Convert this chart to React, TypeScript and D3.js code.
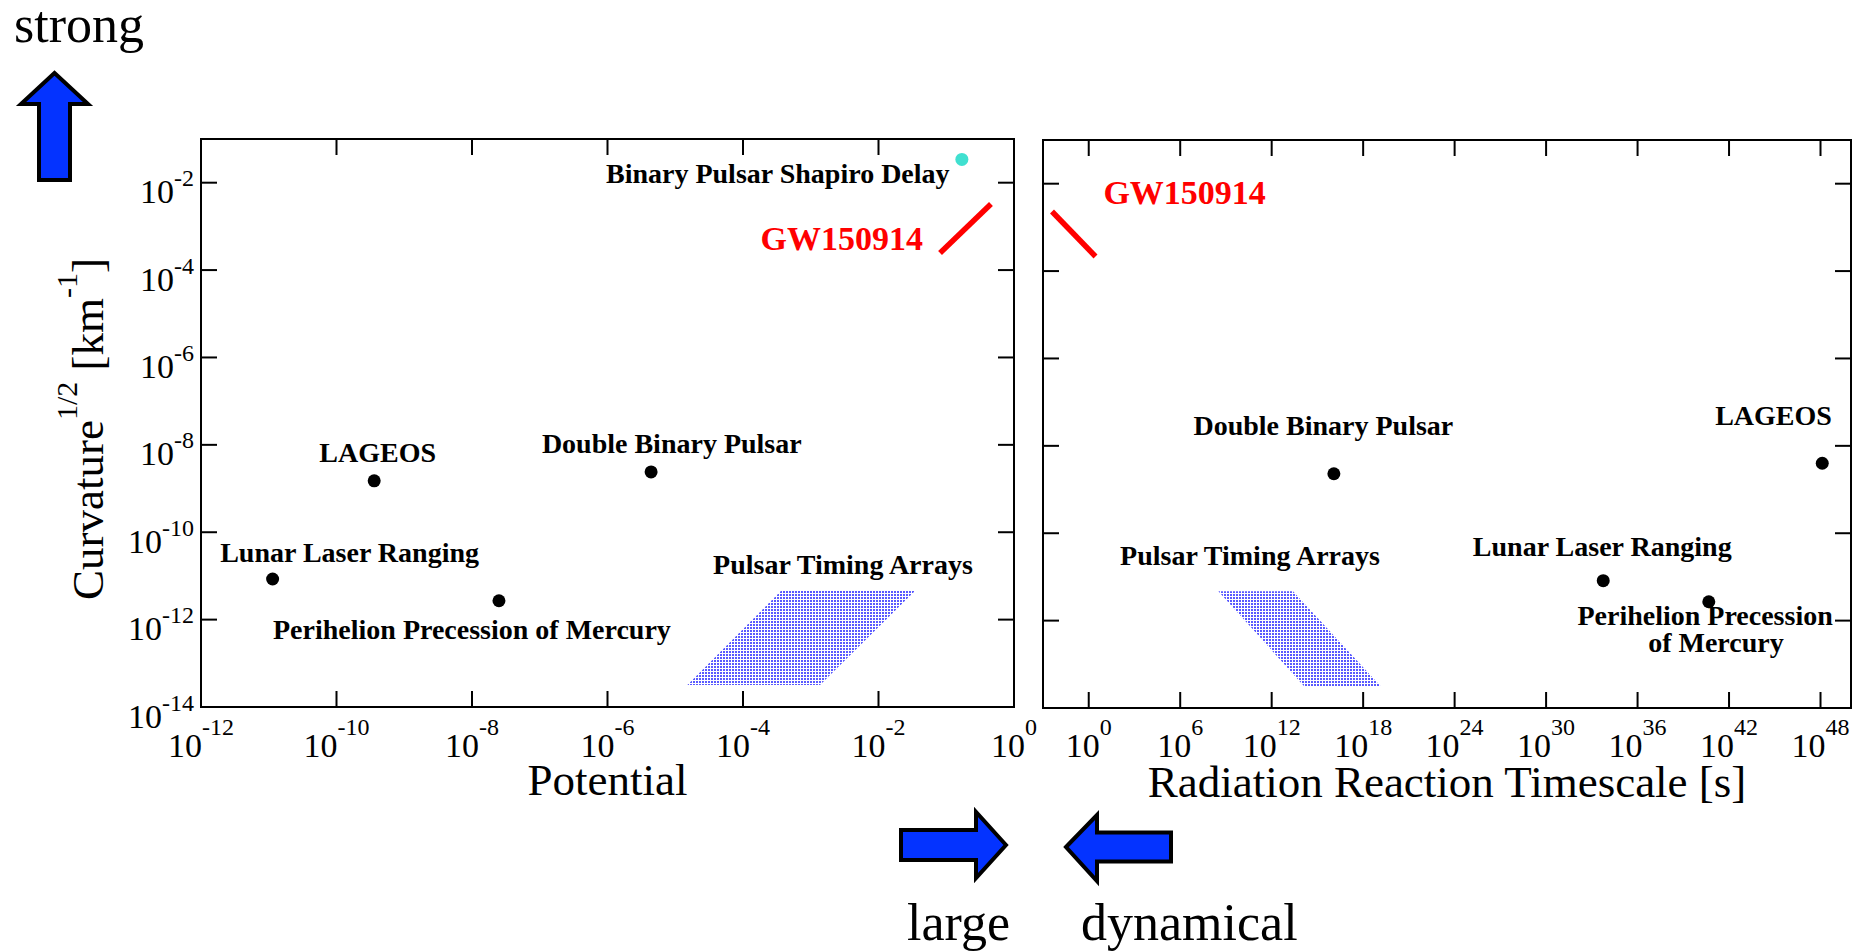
import React from "react";
import * as d3 from "d3";

// Experiments plotted as points in both panels
const experiments = [
  "Lunar Laser Ranging",
  "LAGEOS",
  "Perihelion Precession of Mercury",
  "Double Binary Pulsar",
];
const potentialValues = [1.14e-11, 3.6e-10, 2.5e-8, 4.4e-6];
const curvatureVsPotential = [8.5e-12, 1.5e-9, 2.7e-12, 2.4e-9];
const timescaleValues = [5.6e33, 1.3e48, 4.7e40, 1.2e16];
const curvatureVsTimescale = [8.2e-12, 4.0e-9, 2.7e-12, 2.3e-9];

// Binary pulsar Shapiro delay (potential panel only)
const shapiroPotential = [0.17];
const shapiroCurvature = [0.034];

// GW150914 segments
const gwPotential = [0.081, 0.457];
const gwCurvatureP = [2.45e-4, 3.24e-3];
const gwTimescale = [3.9e-3, 2.78];
const gwCurvatureT = [2.31e-3, 2.16e-4];

// Pulsar timing array band corners: top-left, top-right, bottom-right, bottom-left
const ptaPotential = [3.72e-4, 3.54e-2, 1.37e-3, 1.51e-5];
const ptaTimescale = [3.2e8, 2.5e13, 1.35e19, 1.3e14];
const ptaCurvature = [4.7e-12, 4.7e-12, 3.2e-14, 3.2e-14];

// Tick exponents
const curvatureTickExp = [-14, -12, -10, -8, -6, -4, -2];
const potentialTickExp = [-12, -10, -8, -6, -4, -2, 0];
const timescaleTickExp = [0, 6, 12, 18, 24, 30, 36, 42, 48];

const SERIF = "'Liberation Serif', 'Times New Roman', Times, serif";
const BLUE = "#0433ff";

// label placement relative to each experiment's point, in px
const leftLabelLayout = [
  { lines: ["Lunar Laser Ranging"], dx: 77, dy: -17 },
  { lines: ["LAGEOS"], dx: 3.5, dy: -19 },
  { lines: ["Perihelion Precession of Mercury"], dx: -27, dy: 38.5 },
  { lines: ["Double Binary Pulsar"], dx: 20.7, dy: -19 },
];
const rightLabelLayout = [
  { lines: ["Lunar Laser Ranging"], dx: -1, dy: -24.7 },
  { lines: ["LAGEOS"], dx: -48.7, dy: -38.3 },
  { lines: ["Perihelion Precession", "of Mercury"], dx: -3.7, dy: 23.3, dx2: 7.1, lineGap: 26.7 },
  { lines: ["Double Binary Pulsar"], dx: -10.5, dy: -39 },
];

type Scale = d3.ScaleLogarithmic<number, number>;

function Frame({ xs, ys, xTicks, yTicks }: { xs: Scale; ys: Scale; xTicks: number[]; yTicks: number[] }) {
  const [x0, x1] = xs.range();
  const [yb, yt] = ys.range();
  const L = 16;
  return (
    <g stroke="#000" strokeWidth={2} fill="none">
      <rect x={x0} y={yt} width={x1 - x0} height={yb - yt} />
      {xTicks.map((e) => {
        const px = xs(Math.pow(10, e));
        return (
          <g key={"x" + e}>
            <line x1={px} x2={px} y1={yb} y2={yb - L} />
            <line x1={px} x2={px} y1={yt} y2={yt + L} />
          </g>
        );
      })}
      {yTicks.map((e) => {
        const py = ys(Math.pow(10, e));
        return (
          <g key={"y" + e}>
            <line x1={x0} x2={x0 + L} y1={py} y2={py} />
            <line x1={x1} x2={x1 - L} y1={py} y2={py} />
          </g>
        );
      })}
    </g>
  );
}

function PowLabel({ x, y, exp, anchor, supDy }: { x: number; y: number; exp: number; anchor: string; supDy: number }) {
  return (
    <text x={x} y={y} textAnchor={anchor as any} fontFamily={SERIF} fontSize={34} fill="#000">
      10
      <tspan fontSize={24} dy={supDy}>
        {String(exp)}
      </tspan>
    </text>
  );
}

function XTickLabels({ xs, ticks }: { xs: Scale; ticks: number[] }) {
  return (
    <g>
      {ticks.map((e) => (
        <PowLabel key={e} x={xs(Math.pow(10, e))} y={757} exp={e} anchor="middle" supDy={-22} />
      ))}
    </g>
  );
}

function Points({ xs, ys, xv, yv, layout }: { xs: Scale; ys: Scale; xv: number[]; yv: number[]; layout: any[] }) {
  return (
    <g>
      {experiments.map((name, i) => {
        const px = xs(xv[i]);
        const py = ys(yv[i]);
        const lay = layout[i];
        return (
          <g key={name}>
            <circle cx={px} cy={py} r={6.5} fill="#000" />
            {lay.lines.map((ln: string, k: number) => (
              <text
                key={k}
                x={px + (k === 0 ? lay.dx : lay.dx2)}
                y={py + lay.dy + k * (lay.lineGap || 0)}
                textAnchor="middle"
                fontFamily={SERIF}
                fontWeight="bold"
                fontSize={28}
                fill="#000"
              >
                {ln}
              </text>
            ))}
          </g>
        );
      })}
    </g>
  );
}

function Arrow({ pts }: { pts: [number, number][] }) {
  return <polygon points={pts.map((p) => p.join(",")).join(" ")} fill={BLUE} stroke="#000" strokeWidth={4} strokeLinejoin="miter" />;
}

export default function App() {
  const W = 1867;
  const H = 951;

  const yL = d3.scaleLog().domain([1e-14, 1e-1]).range([707, 139]);
  const yR = d3.scaleLog().domain([1e-14, 1e-1]).range([708, 140]);
  const xP = d3.scaleLog().domain([1e-12, 1]).range([201, 1014]);
  const xT = d3.scaleLog().domain([1e-3, 1e50]).range([1043, 1851]);

  const seg = d3
    .line<[number, number]>()
    .x((d) => d[0])
    .y((d) => d[1]);

  const gwLeftPts: [number, number][] = gwPotential.map((v, i) => [xP(v), yL(gwCurvatureP[i])]);
  const gwRightPts: [number, number][] = gwTimescale.map((v, i) => [xT(v), yR(gwCurvatureT[i])]);

  const ptaLeft = ptaPotential.map((v, i) => [xP(v), yL(ptaCurvature[i])]);
  const ptaRight = ptaTimescale.map((v, i) => [xT(v), yR(ptaCurvature[i])]);

  const shX = xP(shapiroPotential[0]);
  const shY = yL(shapiroCurvature[0]);

  const ptaLeftTopMid = (ptaLeft[0][0] + ptaLeft[1][0]) / 2;
  const ptaRightTopMid = (ptaRight[0][0] + ptaRight[1][0]) / 2;

  return (
    <svg width={W} height={H} style={{ position: "absolute", left: 0, top: 0, display: "block", background: "#fff" }}>
      <defs>
        <pattern id="ptaDots" width={3} height={3} patternUnits="userSpaceOnUse">
          <rect width={3} height={3} fill="#fff" />
          <rect width={2} height={2} fill="#5a5aff" />
        </pattern>
      </defs>
      <rect width={W} height={H} fill="#fff" />

      {/* direction cues */}
      <text x={14} y={42} fontFamily={SERIF} fontSize={52} fill="#000">strong</text>
      <Arrow pts={[[54.5, 73], [88, 104], [70, 104], [70, 180], [39, 180], [39, 104], [21, 104]]} />
      <Arrow pts={[[1006, 845], [976, 812], [976, 830], [901, 830], [901, 860], [976, 860], [976, 878]]} />
      <Arrow pts={[[1066, 847], [1097, 815], [1097, 832.5], [1171, 832.5], [1171, 861.5], [1097, 861.5], [1097, 881]]} />
      <text x={907} y={940} fontFamily={SERIF} fontSize={52} fill="#000">large</text>
      <text x={1081} y={940} fontFamily={SERIF} fontSize={52} fill="#000">dynamical</text>

      {/* ---------- potential panel ---------- */}
      <polygon points={ptaLeft.map((p) => p.join(",")).join(" ")} fill="url(#ptaDots)" />
      <Frame xs={xP} ys={yL} xTicks={potentialTickExp} yTicks={curvatureTickExp} />
      {curvatureTickExp.map((e) => (
        <PowLabel key={e} x={194} y={yL(Math.pow(10, e)) + 20.5} exp={e} anchor="end" supDy={-17} />
      ))}
      <XTickLabels xs={xP} ticks={potentialTickExp} />
      <text x={(xP.range()[0] + xP.range()[1]) / 2} y={795} textAnchor="middle" fontFamily={SERIF} fontSize={45}>
        Potential
      </text>
      <text
        transform={`translate(103, ${(yL.range()[0] + yL.range()[1]) / 2 + 6}) rotate(-90)`}
        textAnchor="middle"
        fontFamily={SERIF}
        fontSize={45}
      >
        Curvature
        <tspan fontSize={30} dy={-26}>1/2</tspan>
        <tspan dy={26}> [km</tspan>
        <tspan fontSize={30} dy={-26}>-1</tspan>
        <tspan dy={26}>]</tspan>
      </text>

      <Points xs={xP} ys={yL} xv={potentialValues} yv={curvatureVsPotential} layout={leftLabelLayout} />

      <text x={ptaLeftTopMid - 5.7} y={ptaLeft[0][1] - 16} textAnchor="middle" fontFamily={SERIF} fontWeight="bold" fontSize={28}>
        Pulsar Timing Arrays
      </text>

      <circle cx={shX} cy={shY} r={6.5} fill="#40e0d0" />
      <text x={shX - 12.3} y={shY + 24} textAnchor="end" fontFamily={SERIF} fontWeight="bold" fontSize={28}>
        Binary Pulsar Shapiro Delay
      </text>

      <path d={seg(gwLeftPts) || ""} stroke="#ff0000" strokeWidth={5.5} fill="none" />
      <text
        x={gwLeftPts[0][0] - 17}
        y={gwLeftPts[0][1] - 3}
        textAnchor="end"
        fontFamily={SERIF}
        fontWeight="bold"
        fontSize={34}
        fill="#ff0000"
      >
        GW150914
      </text>

      {/* ---------- radiation reaction timescale panel ---------- */}
      <polygon points={ptaRight.map((p) => p.join(",")).join(" ")} fill="url(#ptaDots)" />
      <Frame xs={xT} ys={yR} xTicks={timescaleTickExp} yTicks={curvatureTickExp} />
      <XTickLabels xs={xT} ticks={timescaleTickExp} />
      <text x={(xT.range()[0] + xT.range()[1]) / 2} y={797} textAnchor="middle" fontFamily={SERIF} fontSize={45}>
        Radiation Reaction Timescale [s]
      </text>

      <Points xs={xT} ys={yR} xv={timescaleValues} yv={curvatureVsTimescale} layout={rightLabelLayout} />

      <text x={ptaRightTopMid - 5.7} y={ptaRight[0][1] - 26.7} textAnchor="middle" fontFamily={SERIF} fontWeight="bold" fontSize={28}>
        Pulsar Timing Arrays
      </text>

      <path d={seg(gwRightPts) || ""} stroke="#ff0000" strokeWidth={5.5} fill="none" />
      <text
        x={gwRightPts[0][0] + 51.4}
        y={gwRightPts[0][1] - 7.2}
        textAnchor="start"
        fontFamily={SERIF}
        fontWeight="bold"
        fontSize={34}
        fill="#ff0000"
      >
        GW150914
      </text>
    </svg>
  );
}
